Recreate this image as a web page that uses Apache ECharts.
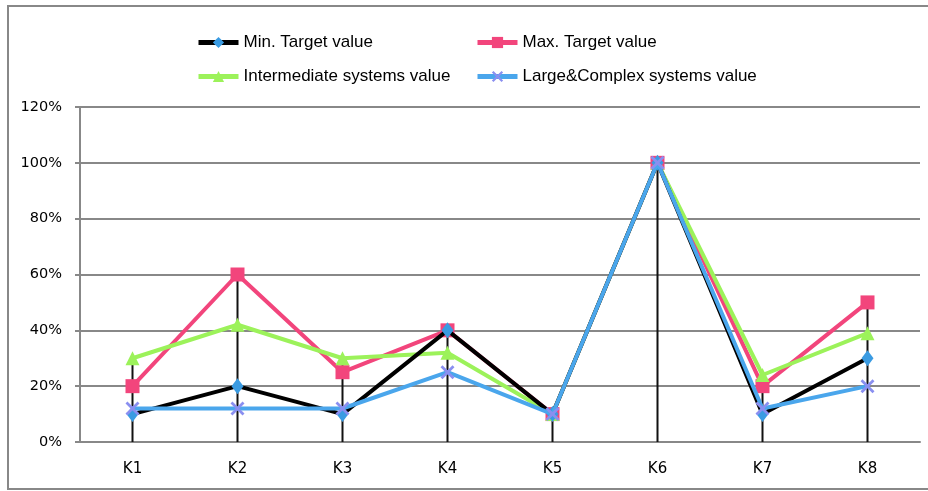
<!DOCTYPE html>
<html><head><meta charset="utf-8">
<script src="https://cdn.jsdelivr.net/npm/echarts@6/dist/echarts.min.js"></script>
<style>html,body{margin:0;padding:0;background:#fff}#c{width:928px;height:491px}</style>
</head><body><div id="c"></div>
<script>
const categories = ['K1','K2','K3','K4','K5','K6','K7','K8'];
const minTarget = [10, 20, 10, 40, 10, 100, 10, 30];
const maxTarget = [20, 60, 25, 40, 10, 100, 20, 50];
const intermediate = [30, 42, 30, 32, 10, 100, 24, 39];
const largeComplex = [12, 12, 12, 25, 10, 100, 12, 20];
const yTicks = [0, 20, 40, 60, 80, 100, 120];
const names = ['Min. Target value','Max. Target value','Intermediate systems value','Large&Complex systems value'];

const dropLines = categories.map((c,i)=>Math.max(minTarget[i],maxTarget[i],intermediate[i],largeComplex[i]));

const chart = echarts.init(document.getElementById('c'));
const legendFont = {fontFamily:'Liberation Sans Narrow, Arial Narrow, Liberation Sans, sans-serif', fontSize:17, color:'#000'};
function lg(name, left, top){
  return {data:[name], left:left, top:top, itemWidth:40, itemHeight:14, itemGap:10, textStyle:legendFont,
    selectedMode:false, lineStyle:{width:5}};
}
const xPath = 'path://M0,1.4L1.4,0L5,3.6L8.6,0L10,1.4L6.4,5L10,8.6L8.6,10L5,6.4L1.4,10L0,8.6L3.6,5Z';
chart.setOption({
  animation:false,
  backgroundColor:'#fff',
  graphic:[{type:'rect', shape:{x:8, y:6, width:980, height:483}, style:{fill:'none', stroke:'#888', lineWidth:2}, silent:true}],
  legend:[lg(names[0],191,29), lg(names[1],470,29), lg(names[2],191,63), lg(names[3],470,63)],
  grid:{left:80, right:8, top:107, bottom:49, containLabel:false},
  xAxis:{type:'category', data:categories, boundaryGap:true,
    axisLine:{lineStyle:{color:'#888', width:2}}, axisTick:{show:false},
    axisLabel:{fontFamily:'DejaVu Sans', fontSize:15, color:'#000', margin:20}},
  yAxis:{type:'value', min:0, max:120, interval:20,
    axisLine:{show:true, lineStyle:{color:'#888', width:2}},
    axisTick:{show:true, length:5, lineStyle:{color:'#888', width:2}},
    splitLine:{lineStyle:{color:'#888', width:2}},
    axisLabel:{fontFamily:'DejaVu Sans', fontSize:14.5, color:'#000', margin:18,
      formatter:v=>yTicks.includes(v)?v+'%':''}},
  series:[
    {type:'bar', data:dropLines, barWidth:2, itemStyle:{color:'#111'}, silent:true, z:1, legendHoverLink:false},
    {name:names[0], type:'line', data:minTarget, lineStyle:{color:'#000', width:4}, symbol:'diamond', symbolSize:[12,16],
      itemStyle:{color:'#3a9be2'}, z:3},
    {name:names[1], type:'line', data:maxTarget, lineStyle:{color:'#f2457c', width:4}, symbol:'rect', symbolSize:14,
      itemStyle:{color:'#f2457c'}, z:2},
    {name:names[2], type:'line', data:intermediate, lineStyle:{color:'#9cf25a', width:4}, symbol:'triangle', symbolSize:14,
      itemStyle:{color:'#9cf25a'}, z:2},
    {name:names[3], type:'line', data:largeComplex, lineStyle:{color:'#4aa6ec', width:4}, symbol:xPath, symbolSize:14,
      itemStyle:{color:'#8a8ff0'}, z:4}
  ]
});
</script></body></html>
